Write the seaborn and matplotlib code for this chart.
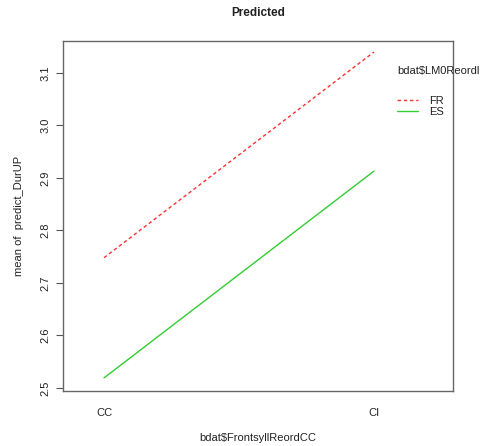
import matplotlib
matplotlib.use('Agg')
import matplotlib.pyplot as plt
import seaborn as sns
import pandas as pd
from matplotlib.lines import Line2D

# данные
front_levels = ['CC', 'CI']
fr_means = [2.748, 3.140]
es_means = [2.519, 2.913]
group_names = ['FR', 'ES']
y_ticks = [2.5, 2.6, 2.7, 2.8, 2.9, 3.0, 3.1]

sns.set_style('white')
plt.rcParams['font.family'] = ['Liberation Sans', 'DejaVu Sans']

df = pd.DataFrame({
    'front': front_levels * 2,
    'mean': fr_means + es_means,
    'group': [group_names[0]] * 2 + [group_names[1]] * 2,
})

fig = plt.figure(figsize=(4.8, 4.46), dpi=100)
ax = fig.add_axes([63 / 480, 1 - 391 / 446, 390 / 480, 350 / 446])

palette = {'FR': '#ff3030', 'ES': '#33cc33'}
dashes = {'FR': (2.5, 2), 'ES': ''}
sns.lineplot(data=df, x='front', y='mean', hue='group', style='group',
             palette=palette, dashes=dashes, linewidth=1.0, ax=ax, legend=False)

ax.set_xlim(-0.152, 1.293)
ax.set_ylim(2.494, 3.161)
ax.set_yticks(y_ticks)
ax.set_yticklabels([f'{v:.1f}' for v in y_ticks], rotation=90, va='center')
ax.tick_params(axis='y', left=True, length=5, width=0.8, color='#555555',
               labelsize=8, pad=4, labelcolor='#222222')
ax.tick_params(axis='x', bottom=False, length=0, labelsize=8, pad=12,
               labelcolor='#222222')

for s in ax.spines.values():
    s.set_visible(True)
    s.set_color('#666666')
    s.set_linewidth(1.0)

ax.set_xlabel('bdat$FrontsyllReordCC', fontsize=8, labelpad=11, color='#222222')
ax.set_ylabel('mean of  predict_DurUP', fontsize=8, labelpad=12, color='#222222')
fig.text(258 / 480, 1 - 13 / 446, 'Predicted', ha='center', va='center',
         fontsize=8.5, fontweight='bold', color='#222222')

# легенда, как в interaction.plot
handles = [Line2D([], [], color=palette['FR'], lw=1.0, dashes=(2.5, 2)),
           Line2D([], [], color=palette['ES'], lw=1.0)]
fig.text(397 / 480, 1 - 71 / 446, 'bdat$LM0Reordl', ha='left', va='center',
         fontsize=8, color='#222222')
leg = fig.legend(handles, group_names, loc='upper left',
                 bbox_to_anchor=(391 / 480, 1 - 90 / 446), frameon=False,
                 fontsize=8, handlelength=1.9, handletextpad=1.0,
                 labelspacing=0.1, borderpad=0)
for t in leg.get_texts():
    t.set_color('#222222')

fig.savefig('out.png', dpi=100)
